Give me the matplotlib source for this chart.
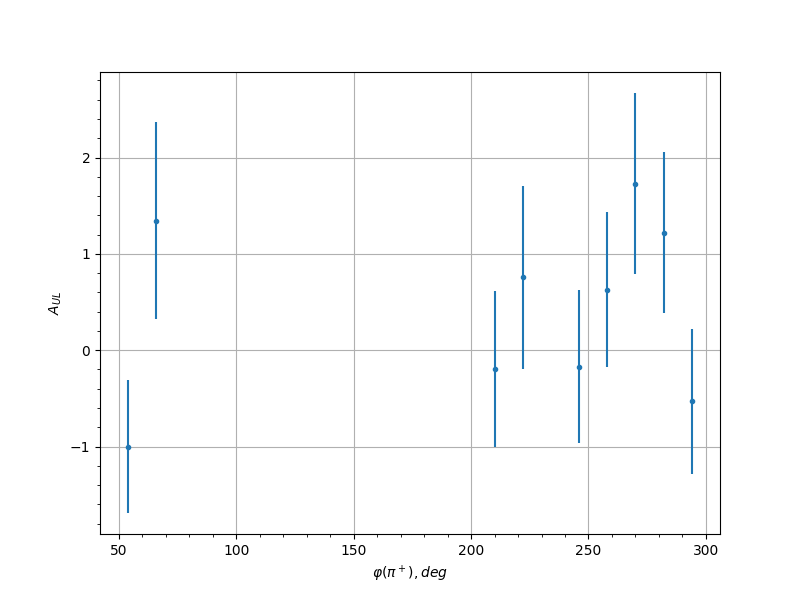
import matplotlib
matplotlib.use("Agg")
import matplotlib.pyplot as plt

phi = [54, 66, 210, 222, 246, 258, 270, 282, 294]
a_ul = [-1.0, 1.345, -0.2, 0.755, -0.17, 0.63, 1.73, 1.22, -0.53]
err = [0.69, 1.025, 0.81, 0.945, 0.79, 0.80, 0.94, 0.835, 0.755]

fig, ax = plt.subplots(figsize=(8, 6), dpi=100)
ax.errorbar(phi, a_ul, yerr=err, fmt='o', markersize=3, color='#1f77b4')
ax.set_xlabel(r'$\varphi(\pi^+), deg$')
ax.set_ylabel(r'$A_{UL}$')
ax.minorticks_on()
ax.grid(True, which='major')
fig.savefig('out.png')
